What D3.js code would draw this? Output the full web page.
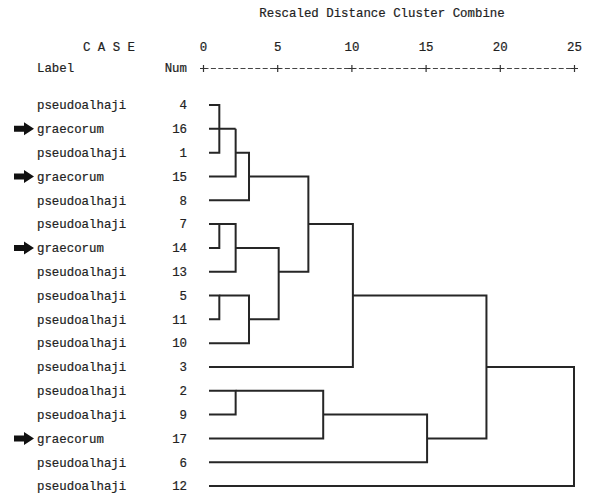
<!DOCTYPE html>
<html>
<head>
<meta charset="utf-8">
<script src="https://cdn.jsdelivr.net/npm/d3@7"></script>
<style>
body { margin: 0; background: #fff; }
text { font-family: "Liberation Mono", "DejaVu Sans Mono", monospace; font-size: 12.4px; fill: #222; stroke: #222; stroke-width: 0.2px; }
</style>
</head>
<body>
<script>
// leaves, top to bottom
const caseLabels = ["pseudoalhaji","graecorum","pseudoalhaji","graecorum","pseudoalhaji",
  "pseudoalhaji","graecorum","pseudoalhaji","pseudoalhaji","pseudoalhaji","pseudoalhaji",
  "pseudoalhaji","pseudoalhaji","pseudoalhaji","graecorum","pseudoalhaji","pseudoalhaji"];
const caseNums = [4,16,1,15,8,7,14,13,5,11,10,3,2,9,17,6,12];

// agglomeration steps: [child a, child b, rescaled distance]
// numbers are case nums, "m#" refers to an earlier merge
const merges = [
  [4, 1, 1.1],
  [16, "m0", 2.2],
  ["m1", 15, 2.2],
  ["m2", 8, 3.1],
  [7, 14, 1.1],
  ["m4", 13, 2.2],
  [5, 11, 1.1],
  ["m6", 10, 3.1],
  ["m5", "m7", 5.1],
  ["m3", "m8", 7.1],
  ["m9", 3, 10.1],
  [2, 9, 2.2],
  ["m11", 17, 8.1],
  ["m12", 6, 15.1],
  ["m10", "m13", 19.1],
  ["m14", 12, 25]
];

const axisTicks = [0, 5, 10, 15, 20, 25];
const arrowLabel = "graecorum";

const W = 591, H = 498;
const svg = d3.select("body").append("svg").attr("width", W).attr("height", H);

const x = d3.scaleLinear().domain([0, 25]).range([203, 574]);
const y = d3.scaleLinear().domain([0, caseNums.length - 1]).range([105, 486]);
const leafStart = x(0) + 6;

// headers
svg.append("text").attr("x", 382).attr("y", 13).attr("dy", "0.35em")
  .attr("text-anchor", "middle").text("Rescaled Distance Cluster Combine");
svg.append("text").attr("x", 83).attr("y", 47).attr("dy", "0.35em").text("C A S E");
svg.append("text").attr("x", 37).attr("y", 68).attr("dy", "0.35em").text("Label");
svg.append("text").attr("x", 187).attr("y", 68).attr("dy", "0.35em")
  .attr("text-anchor", "end").text("Num");

// axis
const axis = d3.axisTop(x).tickValues(axisTicks).tickSizeInner(0).tickSizeOuter(0).tickPadding(17);
const gAxis = svg.append("g").attr("transform", "translate(0,68)").call(axis);
gAxis.select(".domain").attr("stroke", "#444").attr("stroke-dasharray", "5 2.4");
gAxis.selectAll(".tick text").attr("font-family", null).attr("font-size", null).attr("fill", null);
gAxis.selectAll(".tick").append("path")
  .attr("d", "M-3.5,0.5H3.5M0,-3V4").attr("stroke", "#333").attr("stroke-width", 1.2);

// leaf labels
const rows = svg.append("g");
rows.selectAll("text.lab").data(caseLabels).join("text").attr("class", "lab")
  .attr("x", 37).attr("y", (d, i) => y(i)).attr("dy", "0.35em").text(d => d);
rows.selectAll("text.num").data(caseNums).join("text").attr("class", "num")
  .attr("x", 187).attr("y", (d, i) => y(i)).attr("dy", "0.35em")
  .attr("text-anchor", "end").text(d => d);

// arrows
const arrowRows = caseLabels.map((d, i) => d === arrowLabel ? i : -1).filter(i => i >= 0);
svg.append("g").selectAll("path").data(arrowRows).join("path")
  .attr("fill", "#111")
  .attr("d", i => {
    const c = y(i);
    return `M14,${c - 3}H24V${c - 6.5}L34,${c}L24,${c + 6.5}V${c + 3}H14Z`;
  });

// tree
const nodes = {};
caseNums.forEach((n, i) => { nodes[n] = { row: i, x: leafStart }; });
const links = [];
merges.forEach(([a, b, d], k) => {
  const na = nodes[a], nb = nodes[b], xm = x(d);
  links.push({ a: na, b: nb, xm });
  nodes["m" + k] = { row: Math.floor((na.row + nb.row) / 2), x: xm };
});

svg.append("g").attr("fill", "none").attr("stroke", "#262626").attr("stroke-width", 2)
  .selectAll("path").data(links).join("path")
  .attr("d", l => `M${l.a.x},${y(l.a.row)}H${l.xm}V${y(l.b.row)}H${l.b.x}`);
</script>
</body>
</html>
